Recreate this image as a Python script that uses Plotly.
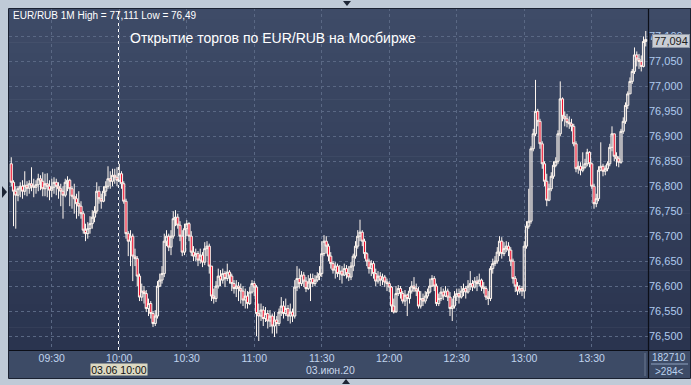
import pandas as pd
import plotly.graph_objects as go

# ---- data (values in thousandths above 76.000) ----
first_open = 845
close_k = [
    808, 790, 782, 795, 800, 790, 802, 796, 805, 800,
    798, 803, 815, 810, 795, 805, 800, 792, 798, 808,
    800, 795, 790, 782, 808, 812, 795, 780, 775, 765,
    760, 745, 712, 705, 715, 725, 738, 750, 790, 775,
    770, 790, 800, 815, 810, 822, 818, 812, 825, 805,
    770, 705, 690, 700, 660, 655, 620, 578, 590, 585,
    555, 565, 545, 525, 540, 600, 612, 625, 690, 700,
    678, 700, 735, 738, 722, 700, 668, 715, 725, 700,
    668, 660, 665, 652, 662, 648, 675, 680, 640, 580,
    575, 600, 620, 612, 625, 615, 628, 620, 605, 595,
    600, 595, 590, 572, 580, 565, 588, 605, 598, 545,
    540, 552, 535, 545, 530, 540, 520, 532, 525, 548,
    560, 545, 555, 540, 548, 540, 598, 615, 605, 622,
    610, 595, 608, 615, 605, 612, 620, 625, 665, 690,
    680, 660, 645, 632, 640, 625, 630, 622, 635, 625,
    618, 640, 660, 680, 700, 708, 690, 665, 650, 635,
    645, 625, 610, 620, 612, 618, 608, 605, 598, 560,
    548, 585, 595, 585, 570, 582, 575, 590, 600, 595,
    590, 560, 575, 570, 580, 588, 600, 615, 600, 565,
    575, 588, 580, 590, 578, 555, 560, 580, 585, 578,
    590, 595, 588, 600, 605, 598, 610, 605, 612, 598,
    595, 578, 575, 635, 645, 650, 668, 690, 665, 675,
    680, 672, 650, 615, 600, 590, 595, 590, 680, 720,
    730, 875, 905, 950, 930, 885, 845, 810, 772, 795,
    820, 842, 850, 905, 975, 940, 935, 928, 925, 920,
    885, 835, 840, 832, 838, 845, 868, 845, 800, 765,
    775, 832, 840, 830, 835, 845, 878, 905, 860, 855,
    848, 910, 930, 962, 985, 1010, 1030, 1063, 1055, 1050,
    1040, 1090, 1094,
]
high_k = [
    858, 812, 800, 800, 808, 812, 830, 810, 812, 838,
    815, 812, 825, 822, 828, 825, 826, 812, 815, 818,
    815, 808, 805, 800, 815, 820, 815, 800, 805, 785,
    790, 770, 750, 725, 728, 740, 752, 760, 808, 800,
    785, 800, 810, 840, 830, 835, 835, 838, 845, 830,
    810, 775, 710, 712, 705, 675, 660, 625, 605, 600,
    592, 575, 570, 550, 552, 610, 625, 640, 705, 712,
    705, 712, 750, 752, 745, 730, 712, 725, 732, 728,
    710, 680, 675, 670, 675, 668, 688, 690, 685, 640,
    595, 610, 635, 632, 635, 630, 645, 632, 625, 612,
    612, 608, 605, 600, 595, 590, 598, 612, 610, 602,
    565, 565, 560, 558, 552, 552, 545, 548, 540, 555,
    578, 570, 575, 562, 565, 555, 612, 640, 635, 630,
    628, 618, 622, 625, 625, 622, 628, 640, 690, 702,
    700, 685, 668, 650, 648, 645, 642, 640, 645, 642,
    640, 648, 665, 690, 712, 733, 712, 695, 668, 655,
    652, 650, 635, 630, 628, 625, 622, 615, 610, 600,
    575, 600, 602, 600, 590, 592, 585, 598, 610, 618,
    605, 598, 590, 585, 590, 595, 615, 622, 620, 605,
    585, 598, 595, 600, 595, 588, 575, 590, 595, 595,
    600, 605, 600, 612, 630, 612, 618, 620, 625, 615,
    608, 600, 590, 640, 655, 660, 678, 700, 698, 688,
    690, 688, 678, 655, 620, 608, 602, 600, 690, 730,
    795, 880, 915, 1013, 955, 935, 890, 850, 825, 805,
    828, 850, 858, 912, 1010, 978, 950, 945, 940, 935,
    925, 890, 850, 848, 868, 855, 875, 870, 848, 805,
    785, 840, 888, 845, 842, 850, 885, 920, 905, 868,
    860, 915, 938, 968, 990, 1018, 1035, 1078, 1070, 1065,
    1062, 1100, 1111,
]
low_k = [
    800, 720, 715, 770, 778, 775, 782, 780, 785, 790,
    778, 785, 790, 792, 780, 780, 778, 772, 778, 785,
    782, 775, 760, 735, 778, 790, 760, 755, 745, 735,
    740, 735, 705, 690, 695, 705, 715, 728, 745, 765,
    755, 768, 780, 795, 795, 800, 805, 800, 808, 795,
    765, 695, 660, 640, 610, 640, 600, 570, 570, 565,
    548, 540, 535, 518, 520, 535, 598, 605, 618, 680,
    670, 662, 695, 720, 715, 690, 660, 662, 700, 690,
    660, 650, 650, 640, 645, 638, 642, 660, 625, 570,
    565, 568, 595, 600, 605, 598, 610, 605, 590, 585,
    578, 570, 565, 560, 555, 555, 562, 585, 580, 500,
    490, 530, 520, 528, 515, 518, 505, 498, 505, 520,
    540, 535, 540, 530, 525, 528, 535, 590, 595, 600,
    598, 588, 592, 570, 598, 600, 608, 612, 618, 660,
    665, 650, 635, 625, 615, 618, 612, 605, 620, 615,
    610, 612, 630, 655, 675, 690, 680, 655, 640, 625,
    620, 615, 600, 605, 600, 602, 598, 590, 588, 548,
    545, 550, 580, 575, 565, 560, 540, 565, 585, 588,
    580, 555, 555, 560, 565, 575, 585, 598, 590, 560,
    560, 570, 572, 578, 570, 540, 530, 555, 570, 565,
    575, 580, 575, 585, 592, 590, 595, 590, 600, 590,
    585, 572, 562, 570, 625, 640, 645, 660, 655, 660,
    668, 660, 640, 605, 588, 582, 585, 580, 575, 675,
    715, 725, 870, 900, 920, 875, 835, 800, 760, 770,
    790, 815, 838, 845, 900, 930, 920, 918, 915, 910,
    880, 828, 825, 822, 828, 835, 840, 838, 795, 755,
    758, 770, 830, 820, 822, 830, 840, 870, 850, 840,
    838, 845, 905, 925, 955, 985, 1005, 1025, 1040, 1035,
    1030, 1038, 1080,
]
start_time = "2020-06-03 09:12"
y_ticks = [76.50, 76.55, 76.60, 76.65, 76.70, 76.75, 76.80, 76.85, 76.90, 76.95, 77.00, 77.05, 77.10]

header_text = "EUR/RUB 1M High = 77,111 Low = 76,49"
title_text = "Открытие торгов по EUR/RUB на Мосбирже"
last_price_text = "77,094"
cross_label = "03.06 10:00"
date_label = "03.июн.20"
volume_text = "182710"
bars_text = ">284<"

# ---- build OHLC ----
base = 76.0
close = [base + c / 1000 for c in close_k]
high = [base + h / 1000 for h in high_k]
low = [base + l / 1000 for l in low_k]
opens = [base + first_open / 1000] + close[:-1]
times = pd.date_range(start_time, periods=len(close), freq="min")

# ---- geometry helpers (pixel -> paper) ----
PX0, PX1, PY0, PY1 = 9, 648, 8, 350
def px(x):
    return (x - PX0) / (PX1 - PX0)
def py(y):
    return (PY1 - y) / (PY1 - PY0)

fig = go.Figure()
fig.add_trace(go.Candlestick(
    x=times, open=opens, high=high, low=low, close=close,
    increasing=dict(line=dict(color="#fff7f0", width=1), fillcolor="rgba(255,247,240,0.35)"),
    decreasing=dict(line=dict(color="#fff7f0", width=1), fillcolor="#ee1230"),
    whiskerwidth=0, showlegend=False, hoverinfo="skip",
))

shapes = []
# gradient background panel
top = (62, 75, 103)
bot = (42, 52, 79)
N = 30
for k in range(N):
    t = k / (N - 1)
    col = tuple(int(round(top[j] + (bot[j] - top[j]) * t)) for j in range(3))
    y0 = PY0 + (PY1 - PY0) * k / N
    y1 = PY0 + (PY1 - PY0) * (k + 1) / N + 0.6
    shapes.append(dict(type="rect", xref="paper", yref="paper", layer="below",
                       x0=px(PX0), x1=px(691), y0=py(y1), y1=py(y0),
                       fillcolor="rgb(%d,%d,%d)" % col, line=dict(width=0)))
# bottom axis strip
shapes.append(dict(type="rect", xref="paper", yref="paper", layer="below",
                   x0=px(PX0), x1=px(691), y0=py(378), y1=py(350),
                   fillcolor="#3d4b66", line=dict(width=0)))
# frame lines
shapes.append(dict(type="line", xref="paper", yref="paper", x0=px(648.5), x1=px(648.5),
                   y0=py(378), y1=py(8), line=dict(color="#0c0f18", width=1.2)))
shapes.append(dict(type="line", xref="paper", yref="paper", x0=px(PX0), x1=px(691),
                   y0=py(350.5), y1=py(350.5), line=dict(color="#0c0f18", width=1.2)))
shapes.append(dict(type="rect", xref="paper", yref="paper", x0=px(8.5), x1=px(690.5),
                   y0=py(378.5), y1=py(8.5), line=dict(color="#1a2131", width=1)))
# bottom-right separators
shapes.append(dict(type="line", xref="paper", yref="paper", x0=px(645), x1=px(645),
                   y0=py(376), y1=py(353), line=dict(color="#6d7a92", width=1)))
shapes.append(dict(type="line", xref="paper", yref="paper", x0=px(651), x1=px(688),
                   y0=py(364), y1=py(364), line=dict(color="#8fa3c0", width=1)))
# crosshair
shapes.append(dict(type="line", xref="paper", yref="paper", x0=px(118.5), x1=px(118.5),
                   y0=py(350), y1=py(8), line=dict(color="#ffffff", width=1, dash="dot")))
# border triangles
def tri(pts):
    d = "M " + " L ".join("%f,%f" % (px(a), py(b)) for a, b in pts) + " Z"
    return dict(type="path", xref="paper", yref="paper", path=d,
                fillcolor="#1d2535", line=dict(width=0))
shapes.append(tri([(343, 1), (351, 1), (347, 6)]))
shapes.append(tri([(342, 384), (350, 384), (346, 379)]))
shapes.append(tri([(2, 186), (2, 198), (7, 192)]))

annotations = [
    dict(text=header_text, x=px(11), y=py(15.5), xref="paper", yref="paper",
         xanchor="left", yanchor="middle", showarrow=False,
         font=dict(family="Liberation Sans", size=10, color="#ffffff")),
    dict(text=title_text, x=px(273), y=py(37.5), xref="paper", yref="paper",
         xanchor="center", yanchor="middle", showarrow=False,
         font=dict(family="Liberation Sans", size=14, color="#ffffff")),
    dict(text=last_price_text, x=px(671), y=py(40.5), xref="paper", yref="paper",
         xanchor="center", yanchor="middle", showarrow=False, width=36, height=12,
         bgcolor="#c9cdd4", bordercolor="#8e97a6", borderwidth=1, borderpad=0,
         font=dict(family="Liberation Sans", size=11, color="#202020")),
    dict(text=cross_label, x=px(118.5), y=py(370), xref="paper", yref="paper",
         xanchor="center", yanchor="middle", showarrow=False, width=56, height=11,
         bgcolor="#dcd9c2", borderpad=0,
         font=dict(family="Liberation Sans", size=10.5, color="#101010")),
    dict(text=date_label, x=px(330), y=py(370), xref="paper", yref="paper",
         xanchor="center", yanchor="middle", showarrow=False,
         font=dict(family="Liberation Sans", size=10.5, color="#c8d6ea")),
    dict(text=volume_text, x=px(669), y=py(357.5), xref="paper", yref="paper",
         xanchor="center", yanchor="middle", showarrow=False,
         font=dict(family="Liberation Sans", size=10, color="#bcd2ee")),
    dict(text=bars_text, x=px(669), y=py(371), xref="paper", yref="paper",
         xanchor="center", yanchor="middle", showarrow=False,
         font=dict(family="Liberation Sans", size=10, color="#bcd2ee")),
]

fig.update_layout(
    width=691, height=385,
    margin=dict(l=PX0, r=691 - PX1, t=PY0, b=385 - PY1),
    paper_bgcolor="#bfcad7",
    plot_bgcolor="rgba(0,0,0,0)",
    separators=", ",
    boxgap=0.05, boxgroupgap=0,
    shapes=shapes,
    annotations=annotations,
    xaxis=dict(
        type="date",
        range=["2020-06-03 09:11:00", "2020-06-03 13:55:00"],
        tick0="2020-06-03 09:30", dtick=30 * 60 * 1000, tickformat="%H:%M",
        showgrid=True, gridcolor="#5a6884", griddash="3px,3px", gridwidth=1,
        zeroline=False, showline=False, ticks="",
        rangeslider=dict(visible=False),
        tickfont=dict(family="Liberation Sans", size=10.5, color="#c0d4ee"),
        fixedrange=True,
    ),
    yaxis=dict(
        side="right",
        range=[76.472, 77.157],
        tickvals=y_ticks, tickformat=".3f",
        showgrid=True, gridcolor="#5a6884", griddash="3px,3px", gridwidth=1,
        zeroline=False, showline=False, ticks="",
        tickfont=dict(family="Liberation Sans", size=11, color="#b0cbee"),
        fixedrange=True,
    ),
)

fig.write_html("out.html")
